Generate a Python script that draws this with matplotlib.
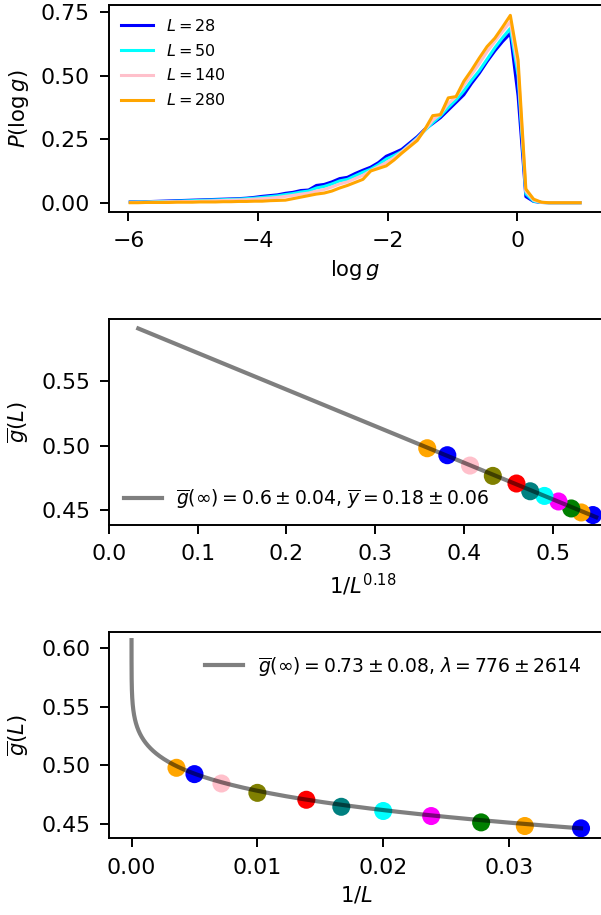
# ═══════════════════════════════════════════════════════════════
# plot.py
# Distribution of log g for several L, and two finite-size
# extrapolations of the mean g(L)
# ═══════════════════════════════════════════════════════════════

import numpy as np
import matplotlib
matplotlib.use("Agg")
import matplotlib.pyplot as plt
from matplotlib.ticker import FormatStrFormatter

# ────────────────────────────────────────────────────────────────
# Panel 1 — P(log g), histogram bin centres and curve heights
# ────────────────────────────────────────────────────────────────
log_g = np.linspace(-5.97, 0.97, 59)   # bin centres

p_L28 = [
    0.003, 0.004, 0.004, 0.005, 0.006, 0.007, 0.008, 0.009, 0.010, 0.011,
    0.012, 0.013, 0.014, 0.015, 0.016, 0.018, 0.021, 0.025, 0.028, 0.031,
    0.037, 0.041, 0.048, 0.050, 0.068, 0.072, 0.082, 0.095, 0.100, 0.115,
    0.128, 0.140, 0.158, 0.183, 0.196, 0.210, 0.235, 0.260, 0.290, 0.312,
    0.335, 0.365, 0.395, 0.425, 0.470, 0.510, 0.556, 0.598, 0.635, 0.667,
    0.420, 0.024, 0.005, 0.001, 0.000, 0.000, 0.000, 0.000, 0.000,
]
p_L50 = [
    0.002, 0.003, 0.003, 0.004, 0.005, 0.005, 0.006, 0.007, 0.008, 0.009,
    0.010, 0.011, 0.012, 0.013, 0.014, 0.016, 0.018, 0.021, 0.024, 0.027,
    0.032, 0.036, 0.042, 0.046, 0.058, 0.064, 0.074, 0.086, 0.092, 0.106,
    0.120, 0.132, 0.150, 0.172, 0.186, 0.202, 0.228, 0.255, 0.285, 0.315,
    0.342, 0.375, 0.405, 0.440, 0.482, 0.520, 0.565, 0.610, 0.650, 0.687,
    0.500, 0.035, 0.006, 0.001, 0.000, 0.000, 0.000, 0.000, 0.000,
]
p_L140 = [
    0.001, 0.002, 0.002, 0.003, 0.003, 0.004, 0.004, 0.005, 0.005, 0.006,
    0.007, 0.008, 0.009, 0.010, 0.011, 0.012, 0.014, 0.016, 0.018, 0.021,
    0.025, 0.029, 0.034, 0.038, 0.046, 0.052, 0.062, 0.074, 0.082, 0.095,
    0.108, 0.126, 0.142, 0.158, 0.177, 0.200, 0.226, 0.252, 0.287, 0.325,
    0.350, 0.390, 0.418, 0.462, 0.505, 0.548, 0.595, 0.635, 0.675, 0.713,
    0.530, 0.045, 0.010, 0.001, 0.000, 0.000, 0.000, 0.000, 0.000,
]
p_L280 = [
    0.000, 0.000, 0.001, 0.001, 0.001, 0.001, 0.002, 0.002, 0.002, 0.003,
    0.003, 0.003, 0.004, 0.004, 0.005, 0.005, 0.006, 0.006, 0.008, 0.009,
    0.010, 0.016, 0.022, 0.028, 0.034, 0.038, 0.046, 0.058, 0.068, 0.080,
    0.092, 0.125, 0.135, 0.145, 0.168, 0.195, 0.220, 0.245, 0.290, 0.343,
    0.347, 0.413, 0.418, 0.478, 0.522, 0.570, 0.615, 0.648, 0.692, 0.738,
    0.562, 0.054, 0.014, 0.002, 0.000, 0.000, 0.000, 0.000, 0.000,
]
dist_labels = [r"$L=28$", r"$L=50$", r"$L=140$", r"$L=280$"]
dist_colors = ["blue", "cyan", "pink", "orange"]

# ────────────────────────────────────────────────────────────────
# Panels 2 & 3 — mean g per system size
# ────────────────────────────────────────────────────────────────
sizes  = [28, 32, 36, 42, 50, 60, 72, 100, 140, 200, 280]
g_mean = [0.4463, 0.4483, 0.4514, 0.4568, 0.4611, 0.4647,
          0.4707, 0.4766, 0.4846, 0.4926, 0.4980]
point_colors = ["blue", "orange", "green", "magenta", "cyan", "teal",
                "red", "olive", "pink", "blue", "orange"]

# power-law fit  g(L) = g_inf - b / L^gamma
pw_g_inf = 0.6
pw_slope = 0.283
pw_gamma = 0.182
pw_x_ends = [0.033, 0.549]
pw_label = r"$\overline{g}(\infty)=0.6\pm0.04$, $\overline{y}=0.18\pm0.06$"

# log fit  g(L) = g_inf - c / ln(lambda L)
lg_g_inf = 0.73
lg_c = 2.833
lg_lambda = 776
lg_L_range = [28, 1.3e7]
lg_label = r"$\overline{g}(\infty)=0.73\pm0.08$, $\lambda=776\pm2614$"

# ────────────────────────────────────────────────────────────────
# Style
# ────────────────────────────────────────────────────────────────
plt.rcParams.update({
    "font.size": 13.5,
    "xtick.labelsize": 15.8,
    "ytick.labelsize": 15.8,
    "axes.labelsize": 15.2,
    "legend.fontsize": 13.5,
    "axes.linewidth": 1.4,
    "xtick.major.size": 6.5,
    "ytick.major.size": 6.5,
    "xtick.major.width": 1.4,
    "ytick.major.width": 1.4,
    "xtick.major.pad": 7.5,
    "ytick.major.pad": 7,
})

W, H = 601, 915
fig = plt.figure(figsize=(W / 100, H / 100), dpi=100)


def add_axes_px(left, top, right, bottom):
    return fig.add_axes([left / W, 1 - bottom / H, (right - left) / W, (bottom - top) / H])


ax1 = add_axes_px(108.5, 5, 602, 211.7)
ax2 = add_axes_px(109, 319, 616.6, 525)
ax3 = add_axes_px(109, 632.3, 603.5, 838.3)

# Panel 1
for ys, lab, col in zip([p_L28, p_L50, p_L140, p_L280], dist_labels, dist_colors):
    ax1.plot(log_g, ys, color=col, lw=2.2, label=lab)
ax1.set_xlim(-6.305, 1.307)
ax1.set_ylim(-0.0354, 0.7788)
ax1.set_xticks([-6, -4, -2, 0])
ax1.set_yticks([0, 0.25, 0.5, 0.75])
ax1.yaxis.set_major_formatter(FormatStrFormatter("%.2f"))
ax1.set_xlabel(r"$\log g$", labelpad=5)
ax1.set_ylabel(r"$P(\log g)$", labelpad=7)
ax1.legend(loc="upper left", frameon=False, fontsize=11.5, handlelength=2.0,
           borderaxespad=0.4, labelspacing=0.55)

# Panel 2 — against 1/L^gamma
x_pw = np.array(sizes, dtype=float) ** (-pw_gamma)
xl = np.array(pw_x_ends)
ax2.plot(xl, pw_g_inf - pw_slope * xl, color="k", alpha=0.5, lw=3,
         zorder=3, label=pw_label)
ax2.scatter(x_pw, g_mean, c=point_colors, s=13 ** 2, zorder=2, linewidths=0)
ax2.set_xlim(0, 0.572)
ax2.set_ylim(0.4386, 0.598)
ax2.set_xticks([0, 0.1, 0.2, 0.3, 0.4, 0.5])
ax2.set_yticks([0.45, 0.50, 0.55])
ax2.yaxis.set_major_formatter(FormatStrFormatter("%.2f"))
ax2.set_xlabel(r"$1/L^{0.18}$", labelpad=5)
ax2.set_ylabel(r"$\overline{g}(L)$", labelpad=7)
ax2.legend(loc="lower left", frameon=False, handlelength=2.0, borderaxespad=0.4)

# Panel 3 — against 1/L
L_fit = np.logspace(np.log10(lg_L_range[0]), np.log10(lg_L_range[1]), 600)
ax3.plot(1 / L_fit, lg_g_inf - lg_c / np.log(lg_lambda * L_fit), color="k",
         alpha=0.5, lw=3, zorder=3, label=lg_label)
ax3.scatter(1 / np.array(sizes, dtype=float), g_mean, c=point_colors,
            s=13 ** 2, zorder=2, linewidths=0)
ax3.set_xlim(-0.00179, 0.0375)
ax3.set_ylim(0.4378, 0.6137)
ax3.set_xticks([0, 0.01, 0.02, 0.03])
ax3.set_yticks([0.45, 0.50, 0.55, 0.60])
ax3.xaxis.set_major_formatter(FormatStrFormatter("%.2f"))
ax3.yaxis.set_major_formatter(FormatStrFormatter("%.2f"))
ax3.set_xlabel(r"$1/L$", labelpad=5)
ax3.set_ylabel(r"$\overline{g}(L)$", labelpad=7)
ax3.legend(loc="upper right", frameon=False, handlelength=2.0, borderaxespad=0.8)

plt.savefig("out.png", dpi=100)
